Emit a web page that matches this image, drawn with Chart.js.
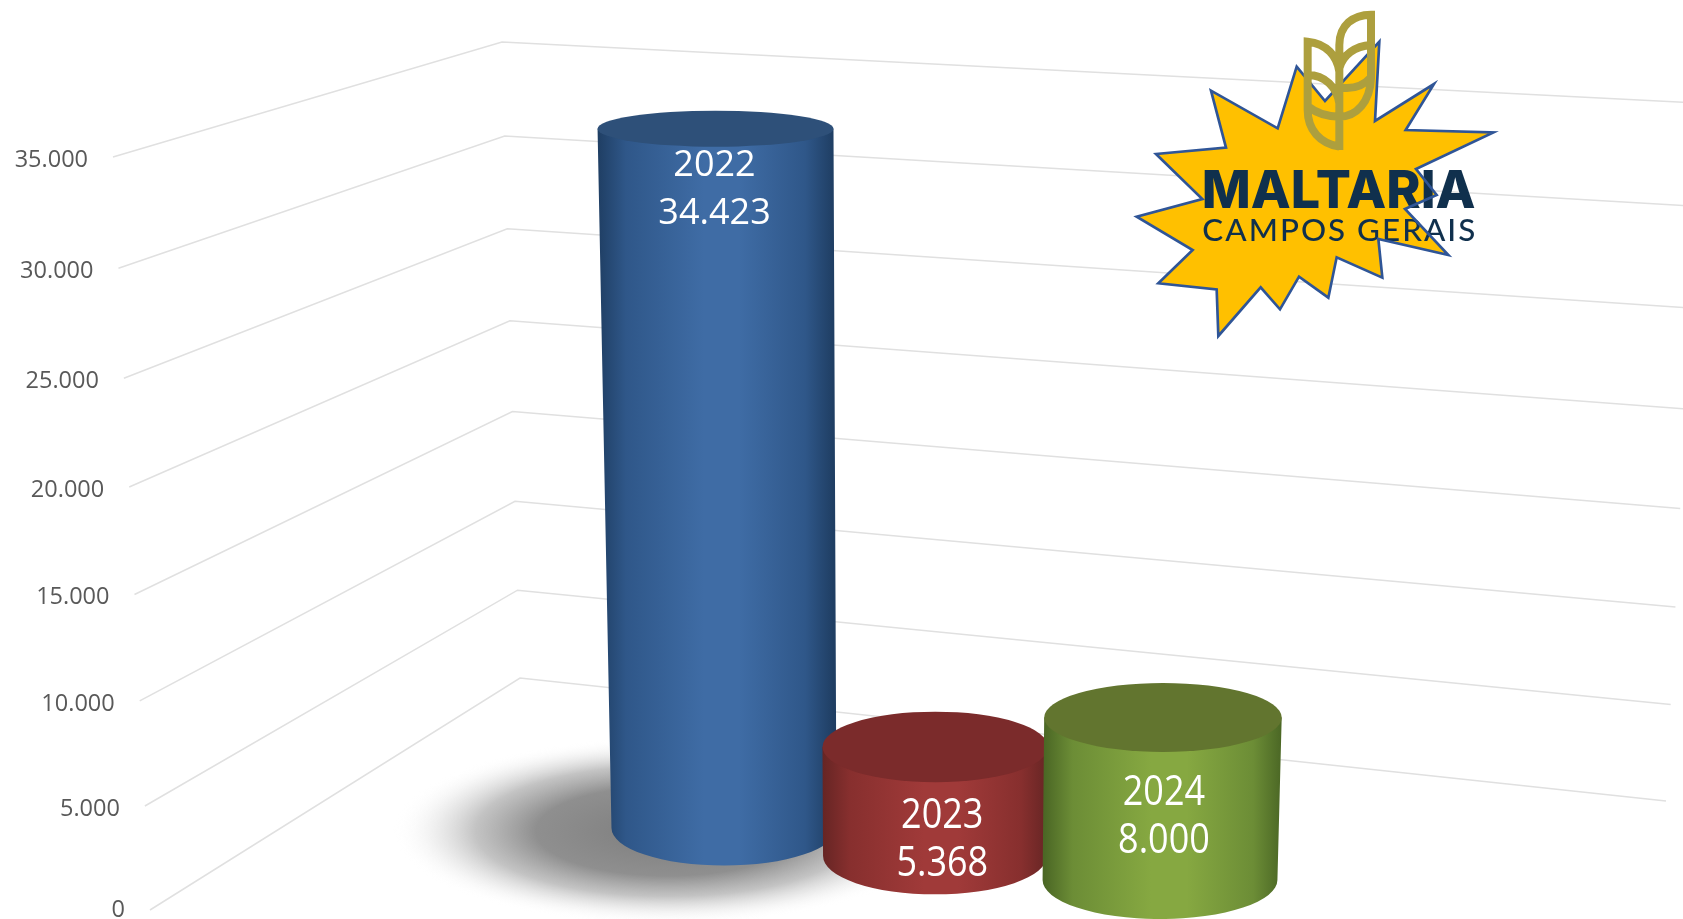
<!DOCTYPE html>
<html>
<head>
<meta charset="utf-8">
<title>Maltaria Campos Gerais</title>
<script src="https://cdn.jsdelivr.net/npm/chart.js@4"></script>
<style>
  html, body { margin: 0; padding: 0; background: #fff; overflow: hidden; }
  #wrap { width: 1683px; height: 919px; }
</style>
</head>
<body>
<div id="wrap"><canvas id="chart_maltaria" width="1683" height="919"></canvas></div>
<script>
const categories = ["2022", "2023", "2024"];
const values = [34423, 5368, 8000];
const valueLabels = ["34.423", "5.368", "8.000"];
const tickValues = [0, 5000, 10000, 15000, 20000, 25000, 30000, 35000];
const tickLabels = ["0", "5.000", "10.000", "15.000", "20.000", "25.000", "30.000", "35.000"];

// look of each cylinder: edge, near edge, middle and lid colours
const edgeColors = ["#1f3e63", "#662524", "#4b6725"];
const nearColors = ["#2f5789", "#872f2e", "#6c8d36"];
const midColors = ["#3f6ca5", "#a03a39", "#86a841"];
const lidColors = ["#2e5079", "#7b2b2b", "#62752f"];

// depth of each cylinder in the fake 3d floor
const depthY = [0, 28, 52];
const depthX = [0, -7, 0];
const widthScale = [0.987, 0.982, 1.03];
const labelDx = [-1, 7, 1];
const labelDy = [37, 69, 76];
const labelStretch = [1.03, 1.15, 1.15];

const vanish = { x: 899, y: 15260 }; // verticals meet here
const wallBend = 1.04;

// the three points of a wall line, at bottom (value 0) and top (value max)
const wallLeft = [{ x: 150, y: 910 }, { x: 113, y: 157 }];
const wallCorner = [{ x: 520, y: 678 }, { x: 502, y: 42 }];
const wallRight = [{ x: 1666, y: 801 }, { x: 1700, y: 103 }];

function wallPoint(p, t) {
  let s = t / (t + (1 - t) * wallBend);
  return { x: p[0].x + (p[1].x - p[0].x) * s, y: p[0].y + (p[1].y - p[0].y) * s };
}

function ellipseRy(y) {
  return 14.4 + 0.028 * y;
}

function toVanish(x, yBottom, yTop) {
  return vanish.x + (x - vanish.x) * (vanish.y - yTop) / (vanish.y - yBottom);
}

const wallPlugin = {
  id: "wallPlugin",
  beforeDatasetsDraw(chart) {
    let ctx = chart.ctx;
    let yScale = chart.scales.y;
    ctx.save();
    ctx.strokeStyle = "#e0e0e0";
    ctx.lineWidth = 1.5;
    ctx.fillStyle = "#595959";
    ctx.font = "23.5px 'Open Sans'";
    ctx.textAlign = "right";
    ctx.textBaseline = "middle";
    yScale.ticks.forEach((tick) => {
      let t = (yScale.bottom - yScale.getPixelForValue(tick.value)) / yScale.height;
      let l = wallPoint(wallLeft, t);
      let c = wallPoint(wallCorner, t);
      let r = wallPoint(wallRight, t);
      ctx.beginPath();
      ctx.moveTo(l.x, l.y);
      ctx.lineTo(c.x, c.y);
      ctx.lineTo(r.x, r.y);
      ctx.stroke();
      ctx.fillText(tick.label, l.x - 25, l.y + (tick.value ? 3 : 0));
    });
    ctx.restore();
  },
};

// the chart bars are left invisible, this paints them as cylinders
const cylinderPlugin = {
  id: "cylinderPlugin",
  afterDatasetsDraw(chart) {
    let ctx = chart.ctx;
    let bars = chart.getDatasetMeta(0).data;

    // floor shadow of the tall bar
    ctx.save();
    ctx.translate(bars[0].x - 56, bars[0].base + 3);
    ctx.scale(1, 0.34);
    let sh = ctx.createRadialGradient(0, 0, 0, 0, 0, 275);
    sh.addColorStop(0, "rgba(125,125,125,1)");
    sh.addColorStop(0.48, "rgba(143,143,143,1)");
    sh.addColorStop(0.7, "rgba(185,185,185,0.85)");
    sh.addColorStop(0.88, "rgba(235,235,235,0.5)");
    sh.addColorStop(1, "rgba(255,255,255,0)");
    ctx.fillStyle = sh;
    ctx.beginPath();
    ctx.arc(0, 0, 275, 0, Math.PI * 2);
    ctx.fill();
    ctx.restore();

    bars.forEach((bar, i) => {
      let yB = bar.base + depthY[i];
      let yT = bar.y + depthY[i];
      let cx = bar.x + depthX[i];
      let rx = (bar.width / 2) * widthScale[i];
      let lB = cx - rx, rB = cx + rx;
      let lT = toVanish(lB, yB, yT), rT = toVanish(rB, yB, yT);
      let cT = (lT + rT) / 2, rxT = (rT - lT) / 2;

      let g = ctx.createLinearGradient(lT, 0, rT, 0);
      g.addColorStop(0, edgeColors[i]);
      g.addColorStop(0.12, nearColors[i]);
      g.addColorStop(0.45, midColors[i]);
      g.addColorStop(0.6, midColors[i]);
      g.addColorStop(0.88, nearColors[i]);
      g.addColorStop(1, edgeColors[i]);

      ctx.save();
      ctx.fillStyle = g;
      ctx.beginPath();
      ctx.moveTo(lT, yT);
      ctx.lineTo(lB, yB);
      ctx.ellipse(cx, yB, rx, ellipseRy(yB), 0, Math.PI, 0, true);
      ctx.lineTo(rT, yT);
      ctx.closePath();
      ctx.fill();

      ctx.fillStyle = lidColors[i];
      ctx.beginPath();
      ctx.ellipse(cT, yT, rxT, ellipseRy(yT), 0, 0, Math.PI * 2);
      ctx.fill();

      ctx.fillStyle = "#ffffff";
      ctx.font = "36px 'Open Sans'";
      ctx.textAlign = "center";
      ctx.textBaseline = "middle";
      [categories[i], valueLabels[i]].forEach((txt, row) => {
        ctx.save();
        ctx.translate(cT + labelDx[i], yT + labelDy[i] + row * 48);
        ctx.scale(1, labelStretch[i]);
        ctx.fillText(txt, 0, 0);
        ctx.restore();
      });
      ctx.restore();
    });
  },
};

const starPts = [
  [530, 200], [615, 303], [778, 125], [765, 363], [942, 252], [857, 390], [1120, 397],
  [888, 507], [950, 585], [855, 627], [985, 765], [775, 717], [787, 833], [650, 772],
  [625, 893], [537, 830], [480, 928], [422, 862], [295, 1008], [290, 868], [115, 850],
  [218, 750], [50, 650], [247, 597], [108, 462], [318, 443], [273, 272], [473, 385],
];

function fitText(ctx, text, x, y, w) {
  let m = ctx.measureText(text).width;
  ctx.save();
  ctx.translate(x, y);
  ctx.scale(w / m, 1);
  ctx.fillText(text, 0, 0);
  ctx.restore();
}

// logo pasted on top of the chart
const logoPlugin = {
  id: "logoPlugin",
  afterDraw(chart) {
    let ctx = chart.ctx;
    ctx.save();
    ctx.translate(1120, 0);
    ctx.scale(1 / 3, 1 / 3);

    let star = new Path2D();
    starPts.forEach((p, i) => (i ? star.lineTo(p[0], p[1]) : star.moveTo(p[0], p[1])));
    star.closePath();
    ctx.fillStyle = "#ffc000";
    ctx.fill(star);

    ctx.fillStyle = "#10304d";
    ctx.textBaseline = "alphabetic";
    ctx.font = "800 158px Inter";
    fitText(ctx, "MALTARIA", 245, 625, 822);
    ctx.font = "500 92px Lato";
    ctx.letterSpacing = "6px";
    fitText(ctx, "CAMPOS GERAIS", 247, 722, 825);
    ctx.letterSpacing = "0px";

    ctx.strokeStyle = "#2f5597";
    ctx.lineWidth = 8;
    ctx.lineJoin = "miter";
    ctx.stroke(star);

    // wheat
    ctx.strokeStyle = "#ad9f3e";
    ctx.lineWidth = 24;
    ctx.lineCap = "butt";
    ctx.beginPath();
    ctx.moveTo(658, 450);
    ctx.lineTo(658, 135);
    ctx.bezierCurveTo(658, 75, 700, 44, 753, 44);
    ctx.lineTo(753, 235);
    ctx.bezierCurveTo(750, 305, 710, 350, 658, 350);
    ctx.bezierCurveTo(625, 350, 590, 340, 565, 320);
    ctx.moveTo(753, 135);
    ctx.bezierCurveTo(705, 138, 668, 165, 658, 205);
    ctx.moveTo(753, 232);
    ctx.bezierCurveTo(730, 258, 695, 268, 658, 262);
    ctx.moveTo(658, 440);
    ctx.bezierCurveTo(600, 430, 563, 390, 563, 330);
    ctx.lineTo(563, 125);
    ctx.bezierCurveTo(620, 130, 652, 170, 658, 215);
    ctx.moveTo(563, 225);
    ctx.bezierCurveTo(615, 225, 650, 262, 658, 310);
    ctx.stroke();
    ctx.restore();
  },
};

new Chart(document.getElementById("chart_maltaria").getContext("2d"), {
  type: "bar",
  data: {
    labels: categories,
    datasets: [
      {
        data: values,
        backgroundColor: "rgba(0,0,0,0)",
        borderWidth: 0,
        barThickness: 228,
      },
    ],
  },
  options: {
    responsive: false,
    animation: false,
    devicePixelRatio: 1,
    layout: { padding: { left: 615, right: 414, top: 117, bottom: 91 } },
    plugins: { legend: { display: false }, tooltip: { enabled: false } },
    scales: {
      x: { display: false },
      y: {
        display: false,
        min: 0,
        max: 35000,
        afterBuildTicks: (axis) => {
          axis.ticks = tickValues.map((v) => ({ value: v }));
        },
        ticks: {
          callback: (v) => tickLabels[tickValues.indexOf(v)],
        },
      },
    },
  },
  plugins: [wallPlugin, cylinderPlugin, logoPlugin],
});
</script>
</body>
</html>
